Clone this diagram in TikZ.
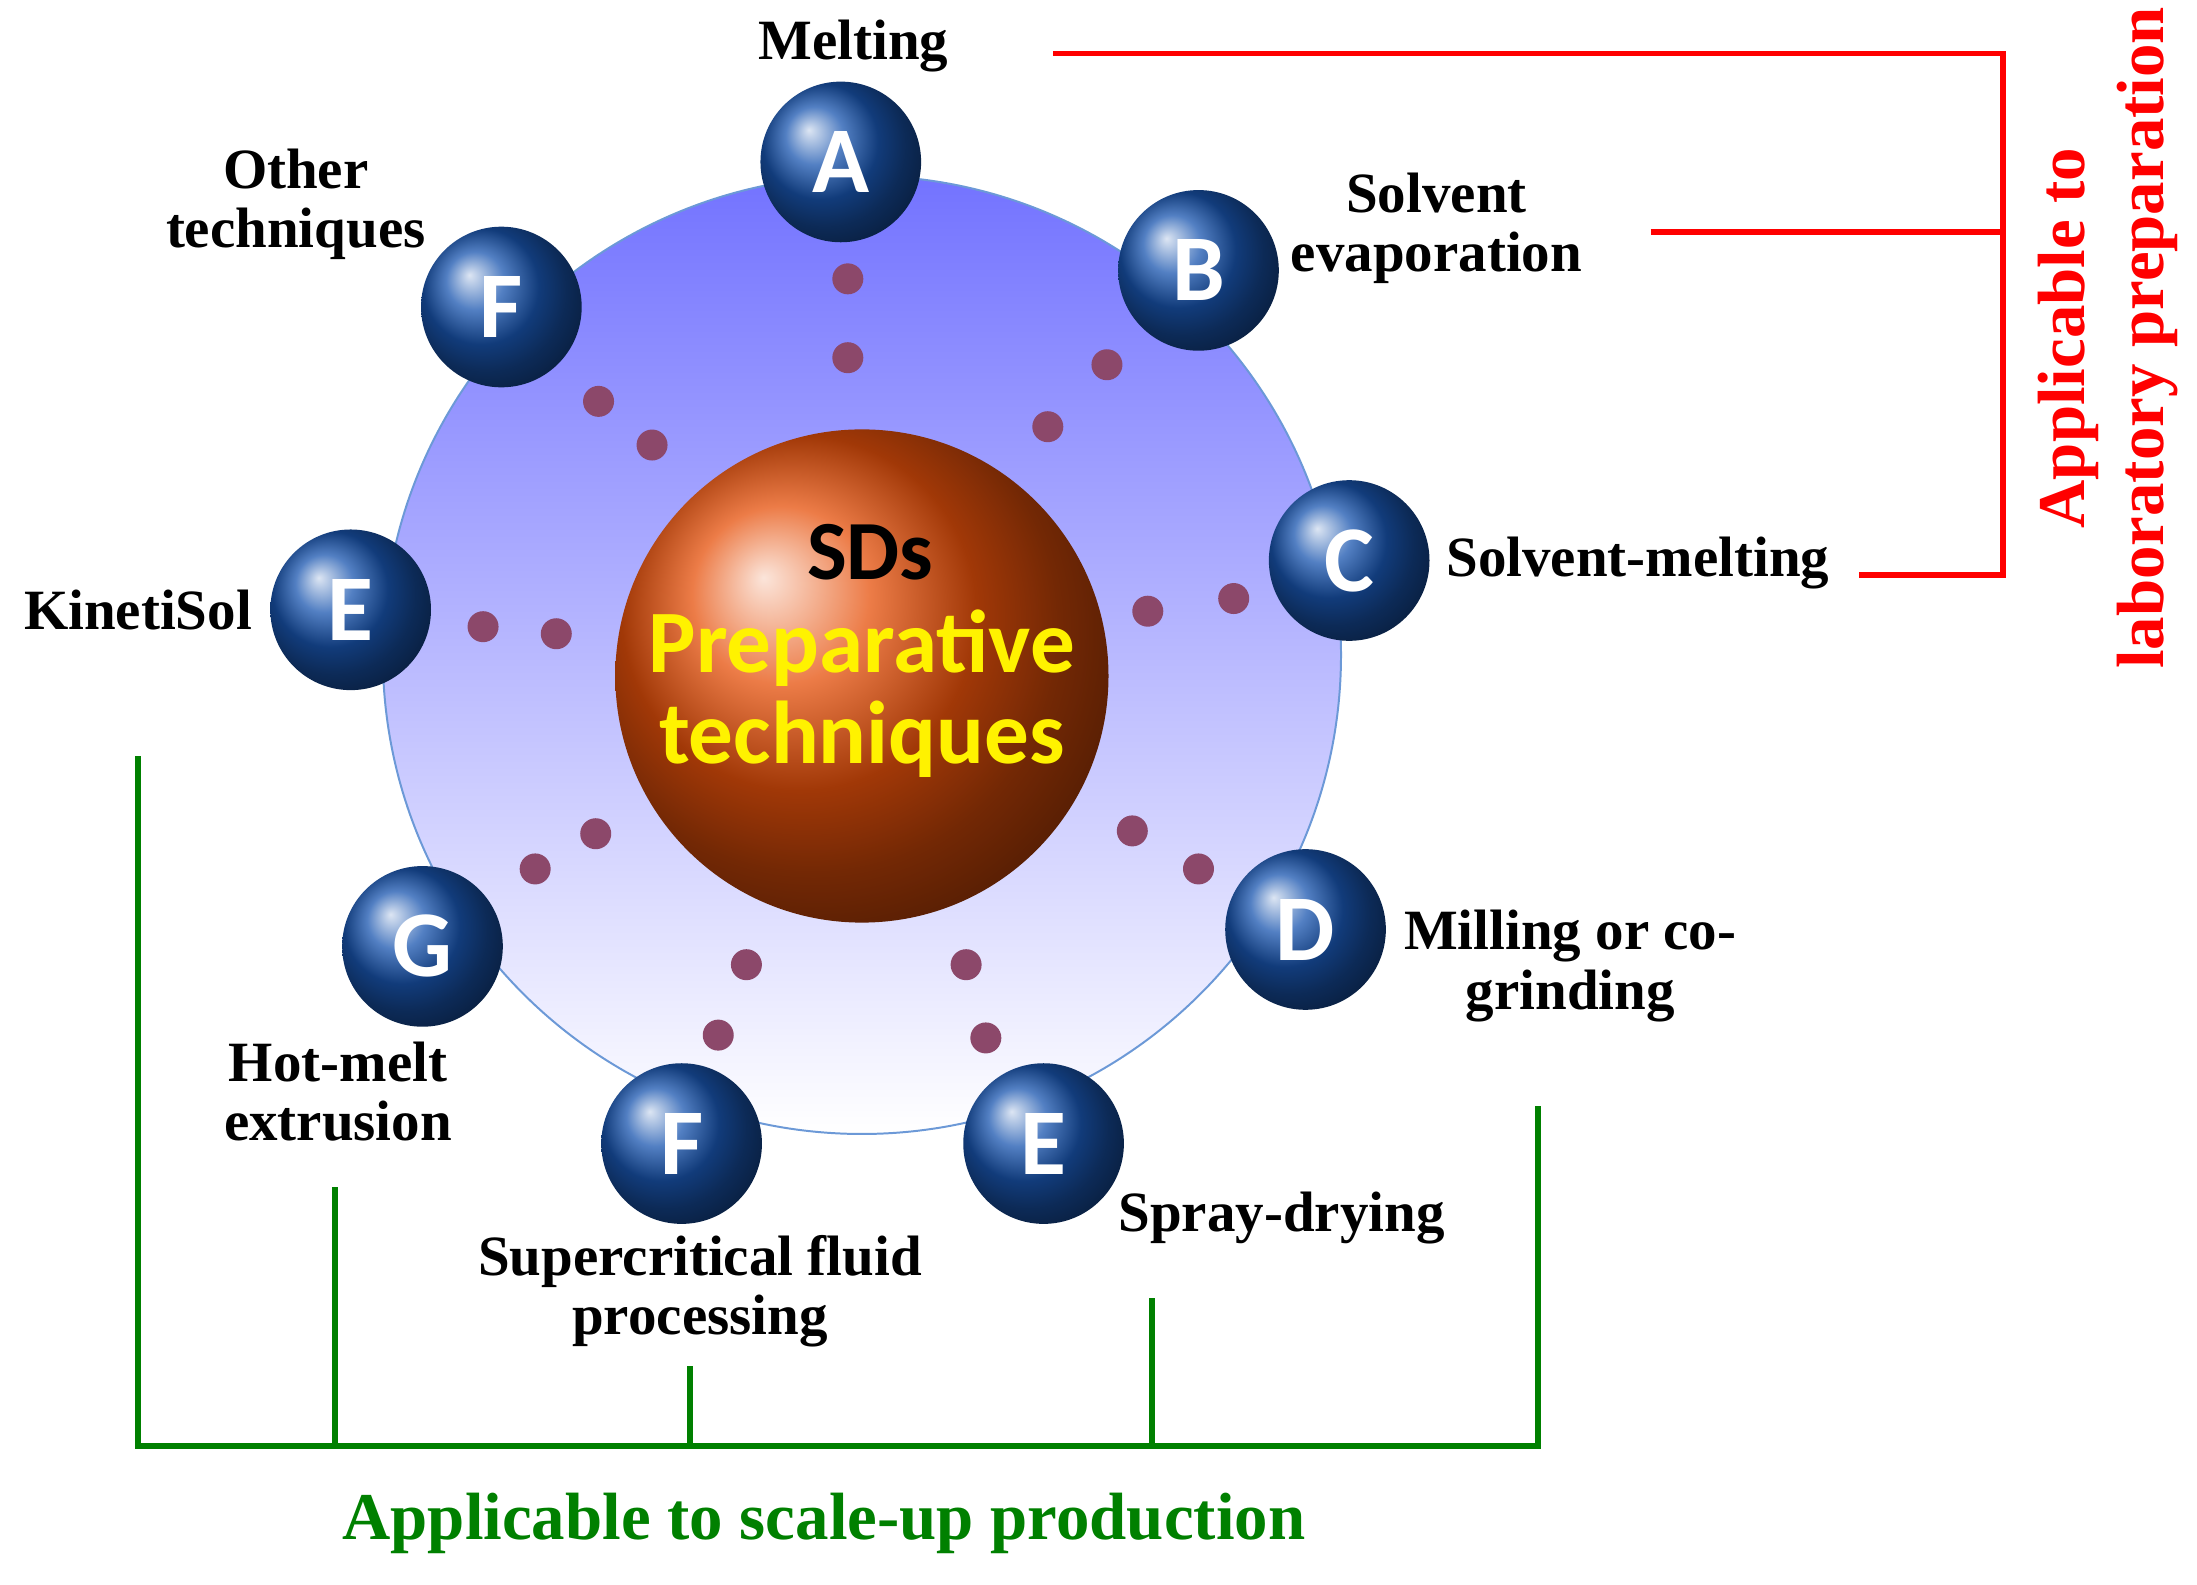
\documentclass[tikz,border=0pt]{standalone}
\usepackage{fontspec}
\setmainfont{Liberation Serif}
\newfontfamily\calib{Carlito}
\definecolor{ballblue}{RGB}{25,85,175}
\definecolor{ballorange}{RGB}{230,80,10}
\definecolor{dotc}{RGB}{120,40,80}
\begin{document}
\begin{tikzpicture}[x=0.01cm,y=-0.01cm,
  lab/.style={font=\fontsize{11.5}{12}\selectfont\bfseries,align=center,inner sep=0pt},
  ballnode/.style={circle,minimum size=1.14cm,inner sep=0pt,ball color=ballblue,text=white,font=\calib\fontsize{19}{19}\selectfont\bfseries},
  dotnode/.style={circle,minimum size=0.22cm,inner sep=0pt,fill=dotc!85},
  redl/.style={red,line width=1.2pt},
  grnl/.style={green!50!black,line width=1.2pt}]
\useasboundingbox (0,0) rectangle (1560,1125);
\shade[top color=blue!55!white,bottom color=white,draw=cyan!50!blue!60] (612,465) circle[radius=3.4cm];
\shade[ball color=ballorange] (612,480) circle[radius=1.75cm];
\node[font=\calib\fontsize{17}{17}\selectfont\bfseries] (sd) at (618,392) {SDs};
\node[font=\calib\fontsize{18}{18}\selectfont\bfseries,text=yellow] (p1) at (612,460) {Preparative};
\node[font=\calib\fontsize{18}{18}\selectfont\bfseries,text=yellow] (p2) at (612,525) {techniques};
\foreach \n/\x/\y in {d1/602/198,d2/602/254,d3/786/259,d4/744/303,d5/876/425,d6/815/434,d7/851/617,d8/804/590,d9/686/685,d10/700/737,d11/530/685,d12/510/735,d13/423/592,d14/380/617,d15/343/445,d16/395/450,d17/425/285,d18/463/316}
  \node[dotnode] (\n) at (\x,\y) {};
\node[ballnode] (A) at (597,115) {A};
\node[ballnode] (B) at (851,192) {B};
\node[ballnode] (C) at (958,398) {C};
\node[ballnode] (D) at (927,660) {D};
\node[ballnode] (E1) at (741,812) {E};
\node[ballnode] (F1) at (484,812) {F};
\node[ballnode] (G) at (300,672) {G};
\node[ballnode] (E2) at (249,433) {E};
\node[ballnode] (F2) at (356,218) {F};
\node[lab] (lA) at (606,33) {Melting};
\node[lab] (lB) at (1020,162) {Solvent\\evaporation};
\node[lab] (lC) at (1163,400) {Solvent-melting};
\node[lab] (lD) at (1115,686) {Milling or co-\\grinding};
\node[lab] (lE1) at (910,865) {Spray-drying};
\node[lab] (lF1) at (497,917) {Supercritical fluid\\processing};
\node[lab] (lG) at (240,775) {Hot-melt\\extrusion};
\node[lab] (lE2) at (98,433) {KinetiSol};
\node[lab] (lF2) at (210,145) {Other\\techniques};
\coordinate (r0) at (748,38); \coordinate (r1) at (1422,38);
\coordinate (r2) at (1172,165); \coordinate (r3) at (1422,165);
\coordinate (r4) at (1320,408); \coordinate (r5) at (1422,408);
\draw[redl] (r0)--(r1)--(r5)--(r4);
\draw[redl] (r2)--(r3);
\node[lab,text=red,rotate=90,font=\fontsize{13.5}{16}\selectfont\bfseries] (rt) at (1497,240) {Applicable to\\laboratory preparation};
\coordinate (g0) at (98,537); \coordinate (g1) at (98,1027);
\coordinate (g2) at (1092,785); \coordinate (g3) at (1092,1027);
\draw[grnl] (g0)--(g1)--(g3)--(g2);
\coordinate (h1) at (238,843); \coordinate (h1b) at (238,1027);
\coordinate (h2) at (490,970); \coordinate (h2b) at (490,1027);
\coordinate (h3) at (818,922); \coordinate (h3b) at (818,1027);
\draw[grnl] (h1)--(h1b) (h2)--(h2b) (h3)--(h3b);
\node[lab,text=green!50!black,font=\fontsize{13.5}{16}\selectfont\bfseries] (gt) at (585,1082) {Applicable to scale-up production};
\end{tikzpicture}
\end{document}
